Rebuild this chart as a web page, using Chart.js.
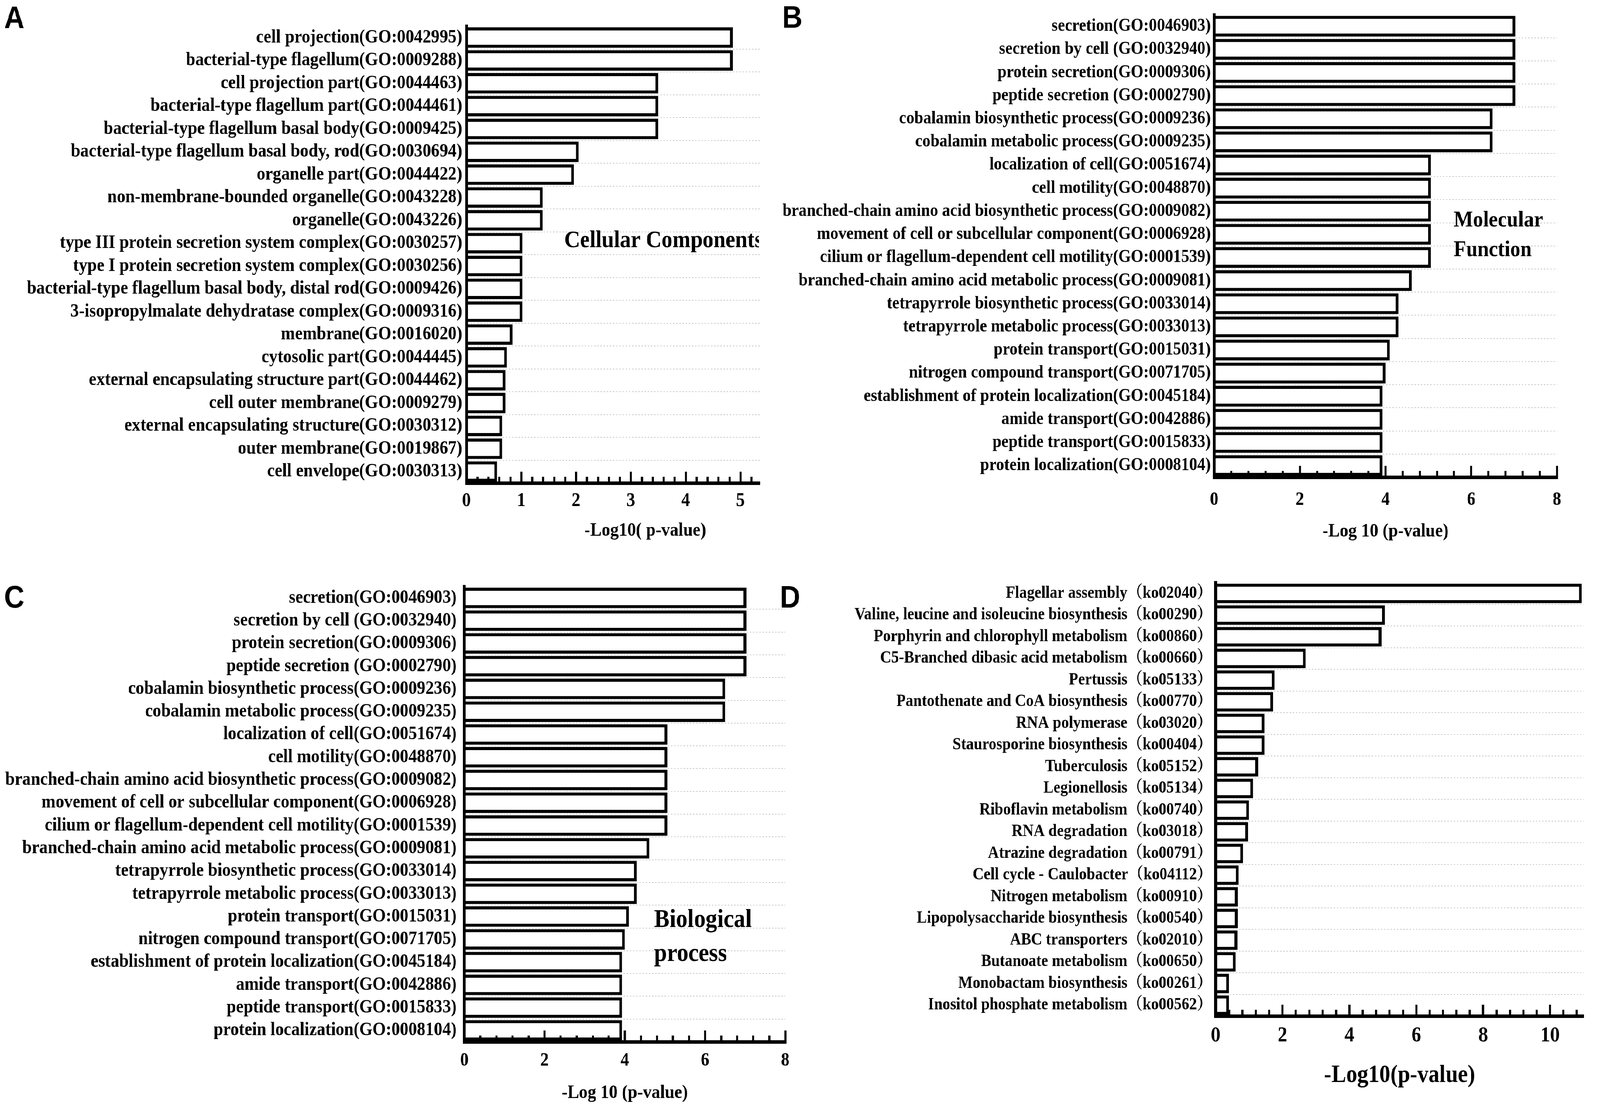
<!DOCTYPE html>
<html>
<head>
<meta charset="utf-8">
<script src="https://cdn.jsdelivr.net/npm/chart.js@4.4.1/dist/chart.umd.min.js"></script>
<style>
html, body { margin: 0; padding: 0; background: #fff; overflow: hidden; }
#fit { position: relative; overflow: hidden; width: 4562px; height: 2835px; background: #fff; }
#page { width: 4562px; height: 2835px; position: absolute; left: 0; top: 0; transform-origin: 0 0; background: #fff; }
canvas { position: absolute; }
</style>
</head>
<body>
<div id="fit">
<div id="page">
<canvas id="cA" width="2200" height="1420" style="left:0px;top:0px;"></canvas>
<canvas id="cB" width="2362" height="1420" style="left:2200px;top:0px;"></canvas>
<canvas id="cC" width="2300" height="1415" style="left:0px;top:1420px;"></canvas>
<canvas id="cD" width="2362" height="1415" style="left:2200px;top:1420px;"></canvas>
</div>
</div>
<script>
// ---------------- DATA ----------------
const ccLabels = [
  'cell projection(GO:0042995)',
  'bacterial-type flagellum(GO:0009288)',
  'cell projection part(GO:0044463)',
  'bacterial-type flagellum part(GO:0044461)',
  'bacterial-type flagellum basal body(GO:0009425)',
  'bacterial-type flagellum basal body, rod(GO:0030694)',
  'organelle part(GO:0044422)',
  'non-membrane-bounded organelle(GO:0043228)',
  'organelle(GO:0043226)',
  'type III protein secretion system complex(GO:0030257)',
  'type I protein secretion system complex(GO:0030256)',
  'bacterial-type flagellum basal body, distal rod(GO:0009426)',
  '3-isopropylmalate dehydratase complex(GO:0009316)',
  'membrane(GO:0016020)',
  'cytosolic part(GO:0044445)',
  'external encapsulating structure part(GO:0044462)',
  'cell outer membrane(GO:0009279)',
  'external encapsulating structure(GO:0030312)',
  'outer membrane(GO:0019867)',
  'cell envelope(GO:0030313)'
];
const ccValues = [4.86, 4.86, 3.50, 3.50, 3.50, 2.05, 1.96, 1.39, 1.39, 1.02,
                  1.02, 1.02, 1.02, 0.84, 0.74, 0.71, 0.71, 0.65, 0.65, 0.56];

const mfLabels = [
  'secretion(GO:0046903)',
  'secretion by cell (GO:0032940)',
  'protein secretion(GO:0009306)',
  'peptide secretion (GO:0002790)',
  'cobalamin biosynthetic process(GO:0009236)',
  'cobalamin metabolic process(GO:0009235)',
  'localization of cell(GO:0051674)',
  'cell motility(GO:0048870)',
  'branched-chain amino acid biosynthetic process(GO:0009082)',
  'movement of cell or subcellular component(GO:0006928)',
  'cilium or flagellum-dependent cell motility(GO:0001539)',
  'branched-chain amino acid metabolic process(GO:0009081)',
  'tetrapyrrole biosynthetic process(GO:0033014)',
  'tetrapyrrole metabolic process(GO:0033013)',
  'protein transport(GO:0015031)',
  'nitrogen compound transport(GO:0071705)',
  'establishment of protein localization(GO:0045184)',
  'amide transport(GO:0042886)',
  'peptide transport(GO:0015833)',
  'protein localization(GO:0008104)'
];
const mfValues = [7.03, 7.03, 7.03, 7.03, 6.50, 6.50, 5.06, 5.06, 5.06, 5.06,
                  5.06, 4.61, 4.30, 4.30, 4.10, 4.00, 3.93, 3.93, 3.93, 3.93];

const bpLabels = [
  'secretion(GO:0046903)',
  'secretion by cell (GO:0032940)',
  'protein secretion(GO:0009306)',
  'peptide secretion (GO:0002790)',
  'cobalamin biosynthetic process(GO:0009236)',
  'cobalamin metabolic process(GO:0009235)',
  'localization of cell(GO:0051674)',
  'cell motility(GO:0048870)',
  'branched-chain amino acid biosynthetic process(GO:0009082)',
  'movement of cell or subcellular component(GO:0006928)',
  'cilium or flagellum-dependent cell motility(GO:0001539)',
  'branched-chain amino acid metabolic process(GO:0009081)',
  'tetrapyrrole biosynthetic process(GO:0033014)',
  'tetrapyrrole metabolic process(GO:0033013)',
  'protein transport(GO:0015031)',
  'nitrogen compound transport(GO:0071705)',
  'establishment of protein localization(GO:0045184)',
  'amide transport(GO:0042886)',
  'peptide transport(GO:0015833)',
  'protein localization(GO:0008104)'
];
const bpValues = [7.03, 7.03, 7.03, 7.03, 6.50, 6.50, 5.06, 5.06, 5.06, 5.06,
                  5.06, 4.61, 4.30, 4.30, 4.10, 4.00, 3.93, 3.93, 3.93, 3.93];

const keggLabels = [
  'Flagellar assembly（ko02040）',
  'Valine, leucine and isoleucine biosynthesis（ko00290）',
  'Porphyrin and chlorophyll metabolism（ko00860）',
  'C5-Branched dibasic acid metabolism（ko00660）',
  'Pertussis（ko05133）',
  'Pantothenate and CoA biosynthesis（ko00770）',
  'RNA polymerase（ko03020）',
  'Staurosporine biosynthesis（ko00404）',
  'Tuberculosis（ko05152）',
  'Legionellosis（ko05134）',
  'Riboflavin metabolism（ko00740）',
  'RNA degradation（ko03018）',
  'Atrazine degradation（ko00791）',
  'Cell cycle - Caulobacter（ko04112）',
  'Nitrogen metabolism（ko00910）',
  'Lipopolysaccharide biosynthesis（ko00540）',
  'ABC transporters（ko02010）',
  'Butanoate metabolism（ko00650）',
  'Monobactam biosynthesis（ko00261）',
  'Inositol phosphate metabolism（ko00562）'
];
const keggValues = [10.95, 5.06, 4.96, 2.69, 1.76, 1.72, 1.46, 1.46, 1.27, 1.12,
                    1.00, 0.97, 0.82, 0.69, 0.66, 0.66, 0.65, 0.60, 0.40, 0.40];

const axisTitleCC = '-Log10( p-value)';
const axisTitleGO = '-Log 10 (p-value)';
const axisTitleKEGG = '-Log10(p-value)';

// ---------------- PAGE FIT (map the 4562x2835 design onto the actual viewport) ----------------
(function fitPage() {
  const sx = window.innerWidth / 4562;
  const sy = window.innerHeight / 2835;
  if (isFinite(sx) && isFinite(sy) && sx > 0 && sy > 0 &&
      (Math.abs(sx - 1) > 0.001 || Math.abs(sy - 1) > 0.001)) {
    document.getElementById('page').style.transform = 'scale(' + sx + ',' + sy + ')';
    const fit = document.getElementById('fit');
    fit.style.width = window.innerWidth + 'px';
    fit.style.height = window.innerHeight + 'px';
  }
})();

// ---------------- STYLE / HELPERS ----------------
const SERIF = "'Liberation Serif','Times New Roman','Noto Serif CJK SC','Noto Sans CJK SC',serif";
const SANS = "'Liberation Sans',Arial,sans-serif";

function onStep(v, step) { const r = v / step; return Math.abs(r - Math.round(r)) < 1e-6; }

const annotPlugin = {
  id: 'annot',
  afterDraw(chart, args, opts) {
    const ctx = chart.ctx;
    (opts.items || []).forEach(it => {
      ctx.save();
      if (it.clipRight !== undefined) {
        ctx.beginPath();
        ctx.rect(0, 0, it.clipRight - opts.ox, chart.height);
        ctx.clip();
      }
      ctx.font = it.font;
      ctx.fillStyle = '#000';
      ctx.textAlign = 'left';
      ctx.textBaseline = 'alphabetic';
      ctx.fillText(it.text, it.x - opts.ox, it.y - opts.oy);
      ctx.restore();
    });
  }
};

function makePanel(p) {
  const el = document.getElementById(p.id);
  const W = el.width, H = el.height;
  const pad = {
    left: 0,
    top: p.area.top - p.oy,
    right: p.ox + W - p.area.right,
    bottom: p.oy + H - p.area.bottom - p.xHeight
  };
  const yWidth = p.area.left - p.ox;
  return new Chart(el, {
    type: 'bar',
    data: {
      labels: p.labels,
      datasets: [{
        data: p.values,
        backgroundColor: '#ffffff',
        borderColor: '#000000',
        borderWidth: 8,
        barPercentage: 0.9,
        categoryPercentage: 1.0
      }]
    },
    options: {
      indexAxis: 'y',
      responsive: false,
      maintainAspectRatio: false,
      animation: false,
      devicePixelRatio: 1,
      layout: { padding: pad },
      plugins: {
        legend: { display: false },
        tooltip: { enabled: false },
        annot: { ox: p.ox, oy: p.oy, items: p.annots }
      },
      scales: {
        x: {
          type: 'linear',
          position: 'bottom',
          min: 0,
          max: p.xMax,
          bounds: 'data',
          afterFit: s => { s.height = p.xHeight; },
          border: { display: true, color: '#000', width: 9, z: 2 },
          grid: {
            z: 1,
            drawOnChartArea: false,
            drawTicks: true,
            tickLength: -29,
            color: 'rgba(0,0,0,0)',
            tickWidth: 6,
            tickColor: c => (c.tick && onStep(c.tick.value, p.step)) ? '#000' : 'rgba(0,0,0,0)',
            tickBorderDash: c => (c.tick && onStep(c.tick.value, p.major)) ? [] : [21, 1000]
          },
          ticks: {
            stepSize: p.step,
            includeBounds: false,
            autoSkip: false,
            maxRotation: 0,
            minRotation: 0,
            padding: p.tickPad,
            color: '#000',
            font: { family: SERIF, weight: 'bold', size: p.tickSize },
            callback: v => onStep(v, p.major) ? String(Math.round(v)) : ''
          },
          title: {
            display: true,
            text: p.title,
            color: '#000',
            padding: { top: 0, bottom: 0 },
            font: { family: SERIF, weight: 'bold', size: p.titleSize }
          }
        },
        y: {
          type: 'category',
          position: 'left',
          offset: true,
          afterFit: s => { s.width = yWidth; },
          border: { display: true, color: '#000', width: 8, dash: [4, 5], z: 2 },
          grid: {
            drawOnChartArea: true,
            drawTicks: false,
            offset: true,
            lineWidth: 2,
            color: c => c.index === 0 ? 'rgba(0,0,0,0)' : '#c8c8c8'
          },
          ticks: {
            autoSkip: false,
            padding: p.yPad,
            color: '#000',
            font: { family: SERIF, weight: 'bold', size: p.ySize }
          }
        }
      }
    },
    plugins: [annotPlugin]
  });
}

// Panel A - Cellular Components
makePanel({
  id: 'cA', ox: 0, oy: 0,
  labels: ccLabels, values: ccValues,
  area: { left: 1330, right: 2166, top: 67, bottom: 1237 },
  xHeight: 152, xMax: 5.35, step: 0.2, major: 1,
  ySize: 48.5, yPad: 12, tickSize: 50, tickPad: 45,
  title: '               ' + axisTitleCC, titleSize: 49,
  annots: [
    { text: 'A', x: 12, y: 72, font: 'bold 80px ' + SANS },
    { text: 'Cellular Components', x: 1609, y: 633, font: 'bold 62px ' + SERIF, clipRight: 2164 }
  ]
});

// Panel B - Molecular Function
makePanel({
  id: 'cB', ox: 2200, oy: 0,
  labels: mfLabels, values: mfValues,
  area: { left: 3462, right: 4439, top: 8, bottom: 1222 },
  xHeight: 169, xMax: 8, step: 0.4, major: 2,
  ySize: 46, yPad: 10, tickSize: 48, tickPad: 59,
  title: axisTitleGO, titleSize: 49,
  annots: [
    { text: 'B', x: 2230, y: 71, font: 'bold 80px ' + SANS },
    { text: 'Molecular', x: 4145, y: 580, font: 'bold 58px ' + SERIF },
    { text: 'Function', x: 4145, y: 656, font: 'bold 58px ' + SERIF }
  ]
});

// Panel C - Biological process
makePanel({
  id: 'cC', ox: 0, oy: 1420,
  labels: bpLabels, values: bpValues,
  area: { left: 1324, right: 2262, top: 1502, bottom: 2668 },
  xHeight: 161, xMax: 8, step: 0.4, major: 2,
  ySize: 48.5, yPad: 22, tickSize: 48, tickPad: 49,
  title: axisTitleGO, titleSize: 49,
  annots: [
    { text: 'C', x: 12, y: 1556, font: 'bold 80px ' + SANS },
    { text: 'Biological', x: 1865, y: 2374, font: 'bold 66px ' + SERIF },
    { text: 'process', x: 1865, y: 2461, font: 'bold 66px ' + SERIF }
  ]
});

// Panel D - KEGG pathways
makePanel({
  id: 'cD', ox: 2200, oy: 1420,
  labels: keggLabels, values: keggValues,
  area: { left: 3466, right: 4553, top: 1492, bottom: 2602 },
  xHeight: 191, xMax: 11, step: 0.4, major: 2,
  ySize: 43.5, yPad: 10, tickSize: 55, tickPad: 47,
  title: axisTitleKEGG, titleSize: 63,
  annots: [
    { text: 'D', x: 2224, y: 1556, font: 'bold 80px ' + SANS }
  ]
});
</script>
</body>
</html>
